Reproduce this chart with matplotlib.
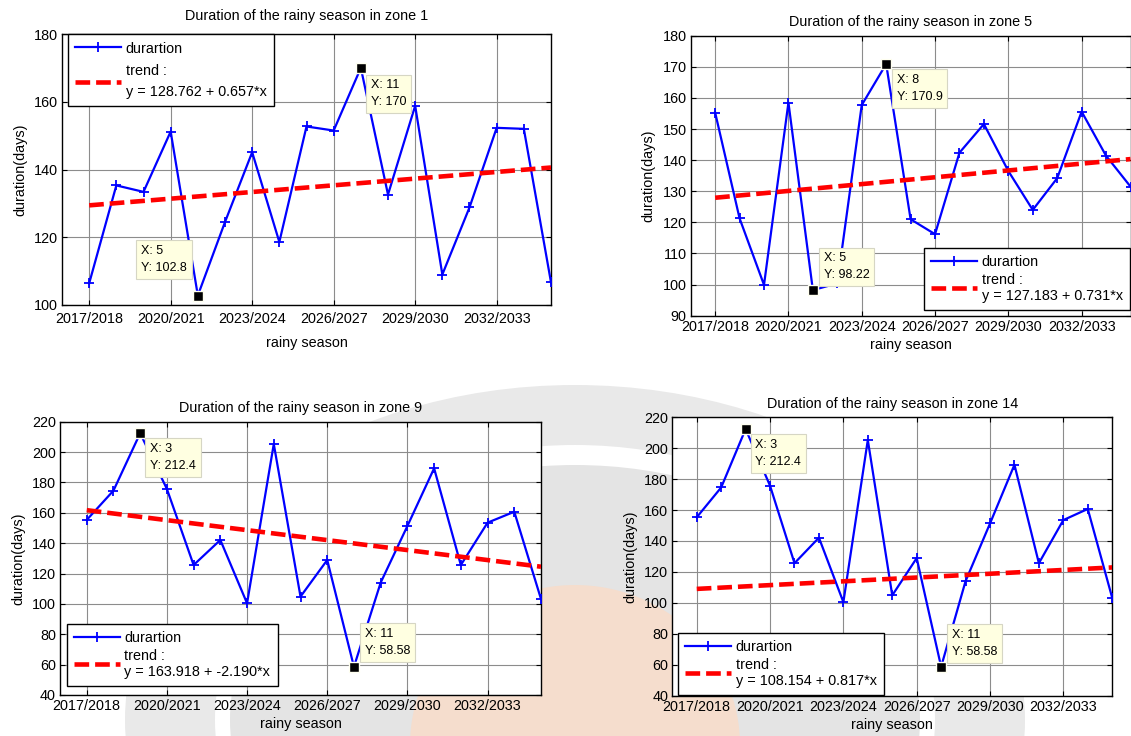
import matplotlib
matplotlib.use("Agg")
import matplotlib.pyplot as plt
from matplotlib.patches import Ellipse

plt.rcParams['font.family'] = ['Liberation Sans', 'DejaVu Sans']

W, H = 1131, 736

# data
seasons = list(range(1, 19))
tick_pos = [1, 4, 7, 10, 13, 16]
tick_labels = ['2017/2018', '2020/2021', '2023/2024', '2026/2027', '2029/2030', '2032/2033']

zone1 = [106.4, 135.3, 133.4, 151.2, 102.8, 124.5, 145.1, 118.6, 152.7,
         151.5, 170.0, 132.6, 158.8, 109.0, 128.8, 152.3, 152.0, 106.7]
zone5 = [155.3, 121.3, 99.9, 158.5, 98.22, 100.4, 157.7, 170.9, 121.0,
         116.2, 142.4, 151.6, 136.5, 124.0, 134.2, 155.6, 141.4, 131.5]
zone9 = [155.3, 174.6, 212.4, 175.7, 125.6, 142.1, 100.4, 205.3, 104.8,
         128.9, 58.58, 114.0, 151.3, 189.3, 125.6, 153.5, 160.7, 103.2]
zone14 = [155.3, 174.6, 212.4, 175.7, 125.6, 142.1, 100.4, 205.3, 104.8,
          128.9, 58.58, 114.0, 151.3, 189.3, 125.6, 153.5, 160.7, 103.2]

trend1 = (128.762, 0.657)
trend5 = (127.183, 0.731)
trend9 = (163.918, -2.190)
trend14 = (108.154, 0.817)

tips1 = [5, 11]
tips5 = [5, 8]
tips9 = [3, 11]
tips14 = [3, 11]


def px_rect(left, top, right, bottom):
    return [left / W, 1 - bottom / H, (right - left) / W, (bottom - top) / H]


fig = plt.figure(figsize=(W / 100, H / 100), dpi=100)

# faded logo in the background of the lower half
for (cx, cy, ew, eh, col) in [(575, 720, 900, 670, '#e9e9e9'),
                              (575, 720, 720, 550, '#ffffff'),
                              (575, 720, 690, 510, '#e4e4e4'),
                              (575, 745, 330, 320, '#f5ddcd')]:
    fig.add_artist(Ellipse((cx / W, 1 - cy / H), ew / W, eh / H,
                           transform=fig.transFigure, fc=col, ec='none', zorder=-5))

FS = 10.4


def panel(rect, values, trend, zone, tips, ylim, ystep, leg_loc, leg_xy,
          tip_pos, title_pad, xpad, xlabelpad, leg_space, leg_lines):
    ax = fig.add_axes(px_rect(*rect))
    ax.set_facecolor('white')
    a, b = trend
    line, = ax.plot(seasons, values, color='blue', lw=1.6, marker='+',
                    ms=7, mew=1.3, zorder=3)
    tr, = ax.plot([seasons[0], seasons[-1]],
                  [a + b * seasons[0], a + b * seasons[-1]],
                  color='red', lw=3.3, dashes=(3.2, 1.3), zorder=4)
    ax.set_xlim(0, 18)
    ax.set_ylim(*ylim)
    ax.set_yticks(range(ylim[0], ylim[1] + 1, ystep))
    ax.set_xticks(tick_pos)
    ax.set_xticklabels(tick_labels)
    ax.tick_params(direction='in', top=True, right=True, length=3.6,
                   width=0.8, labelsize=FS, colors='black')
    ax.tick_params(axis='x', pad=xpad)
    ax.tick_params(axis='y', pad=3)
    ax.grid(True, color='#8c8c8c', lw=0.8)
    ax.set_axisbelow(True)
    for s in ax.spines.values():
        s.set_linewidth(1.0)
        s.set_color('black')
    ax.set_title('Duration of the rainy season in zone %d' % zone,
                 fontsize=FS, pad=title_pad)
    ax.set_xlabel('rainy season', fontsize=FS, labelpad=xlabelpad)
    ax.set_ylabel('duration(days)', fontsize=FS, labelpad=5)

    leg = ax.legend([line, tr], ['durartion', 'trend :\ny = %.3f + %.3f*x' % (a, b)],
                    loc=leg_loc, bbox_to_anchor=(leg_xy[0] / W, 1 - leg_xy[1] / H),
                    bbox_transform=fig.transFigure, borderaxespad=0,
                    fancybox=False, edgecolor='black', framealpha=1,
                    fontsize=FS, handlelength=3.2, handletextpad=0.3,
                    borderpad=0.5, labelspacing=leg_space, numpoints=1)
    leg.get_frame().set_linewidth(1.0)
    leg.set_zorder(7)
    for t in leg.get_texts():
        t.set_linespacing(leg_lines)

    for x, (ha, va, dx, dy) in zip(tips, tip_pos):
        y = values[x - 1]
        ax.plot([x], [y], 's', ms=6.5, mfc='black', mec='#fffff0', mew=1.0,
                zorder=6, clip_on=False)
        ax.annotate('X: %d\nY: %s' % (x, format(y, '.4g')), xy=(x, y),
                    xytext=(dx, dy), textcoords='offset pixels', ha=ha, va=va,
                    multialignment='left', fontsize=9, linespacing=1.55, zorder=8,
                    bbox=dict(boxstyle='square,pad=0.38', fc='#ffffe1',
                              ec='#d6d6c4', lw=0.8))
    return ax


panel((62, 34, 551, 305), zone1, trend1, 1, tips1, (100, 180), 20,
      'upper left', (68, 34.3),
      [('right', 'bottom', -11, 21.5), ('left', 'top', 10, -11.5)],
      title_pad=10, xpad=5, xlabelpad=7, leg_space=0.6, leg_lines=1.6)
panel((690.7, 35.7, 1130.5, 315.7), zone5, trend5, 5, tips5, (90, 180), 10,
      'lower right', (1130, 310),
      [('left', 'bottom', 10.8, 8.7), ('left', 'top', 10.7, -10)],
      title_pad=7, xpad=3, xlabelpad=3, leg_space=0.3, leg_lines=1.15)
panel((60, 421.7, 541, 695), zone9, trend9, 9, tips9, (40, 220), 20,
      'lower left', (66.7, 686),
      [('left', 'top', 10, -9.8), ('left', 'bottom', 10.7, 10)],
      title_pad=7, xpad=3, xlabelpad=3, leg_space=0.3, leg_lines=1.15)
panel((672.3, 417.3, 1112.2, 695.5), zone14, trend14, 14, tips14, (40, 220), 20,
      'lower left', (677.9, 695),
      [('left', 'top', 9.7, -10), ('left', 'bottom', 10.4, 8.7)],
      title_pad=7, xpad=3, xlabelpad=3, leg_space=0.3, leg_lines=1.15)

fig.savefig('out.png', dpi=100)
